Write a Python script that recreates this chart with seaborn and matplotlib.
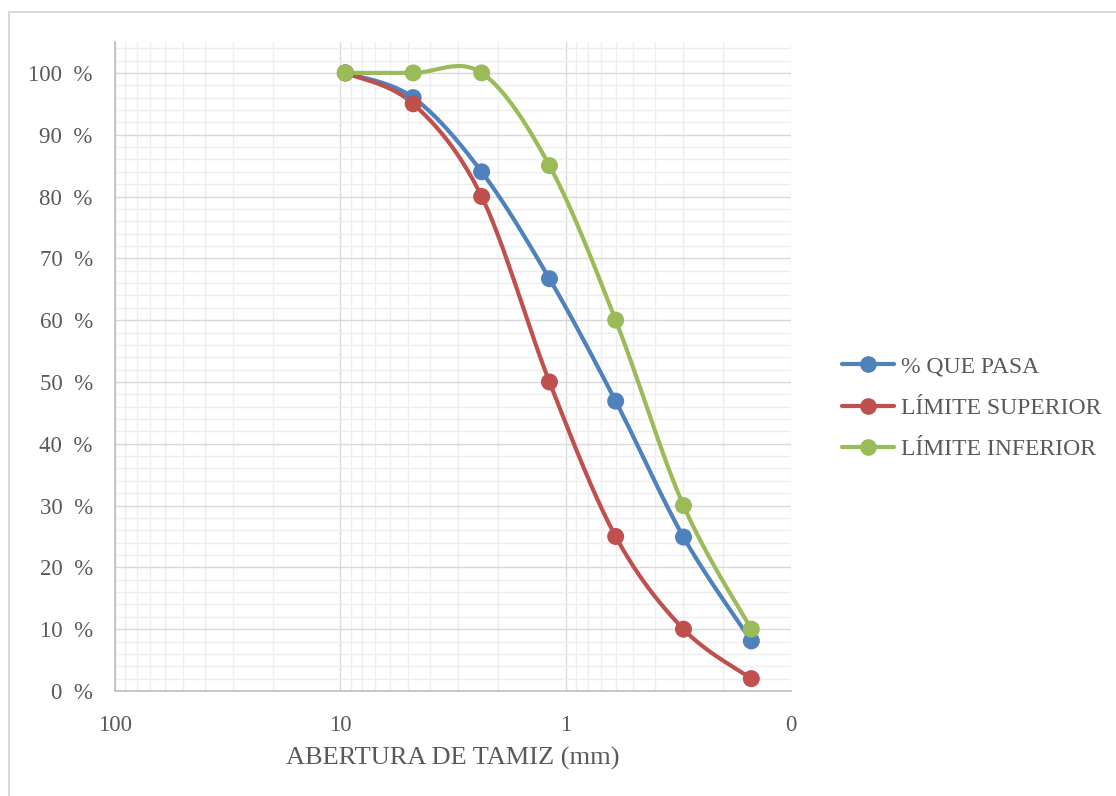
import numpy as np
import pandas as pd
import seaborn as sns
import matplotlib
matplotlib.use("Agg")
import matplotlib.pyplot as plt
from matplotlib.lines import Line2D
from matplotlib.patches import Rectangle
from matplotlib.ticker import FixedLocator, FixedFormatter, LogLocator, MultipleLocator, NullFormatter

# %%
abertura = [9.5, 4.75, 2.36, 1.18, 0.6, 0.3, 0.15]
que_pasa = [100, 96, 84, 66.7, 46.9, 24.9, 8.1]
lim_superior = [100, 95, 80, 50, 25, 10, 2]
lim_inferior = [100, 100, 100, 85, 60, 30, 10]

series = ["% QUE PASA", "LÍMITE SUPERIOR", "LÍMITE INFERIOR"]
colores = ["#4f81bd", "#c0504d", "#9bbb59"]
x_ticks = [100, 10, 1, 0.1]
x_labels = ["100", "10", "1", "0"]
y_ticks = list(range(0, 101, 10))
y_labels = [f"{v}  %" for v in y_ticks]

gris = "#595959"


def suavizar(xs, ys, n=40):
    # curva suavizada tipo Excel (bezier / catmull-rom) en espacio log-x
    p = np.column_stack([np.log10(xs), ys])
    out = []
    for i in range(len(p) - 1):
        p0 = p[i - 1] if i > 0 else p[i]
        p1, p2 = p[i], p[i + 1]
        p3 = p[i + 2] if i + 2 < len(p) else p[i + 1]
        c1 = p1 + (p2 - p0) / 6
        c2 = p2 - (p3 - p1) / 6
        t = np.linspace(0, 1, n)[:, None]
        b = (1 - t) ** 3 * p1 + 3 * (1 - t) ** 2 * t * c1 + 3 * (1 - t) * t ** 2 * c2 + t ** 3 * p2
        out.append(b if i == 0 else b[1:])
    out = np.vstack(out)
    return 10 ** out[:, 0], out[:, 1]


puntos = pd.concat([
    pd.DataFrame({"abertura": abertura, "pasa": vals, "serie": s})
    for s, vals in zip(series, [que_pasa, lim_superior, lim_inferior])
])
curvas = []
for s, vals in zip(series, [que_pasa, lim_superior, lim_inferior]):
    sx, sy = suavizar(abertura, vals)
    curvas.append(pd.DataFrame({"abertura": sx, "pasa": sy, "serie": s}))
curvas = pd.concat(curvas)

# %%
sns.set_style("white")
plt.rcParams["font.family"] = ["Liberation Serif", "DejaVu Serif"]

fig = plt.figure(figsize=(11.16, 7.96), dpi=100)
ax = fig.add_axes([115 / 1116, 105 / 796, 676 / 1116, 649 / 796])

fig.patches.append(Rectangle((9 / 1116, -0.05), 1.2, 1 - 12 / 796 + 0.05, transform=fig.transFigure,
                             fill=False, edgecolor="#d9d9d9", lw=1.5, zorder=0))

pal = dict(zip(series, colores))
sns.lineplot(data=curvas, x="abertura", y="pasa", hue="serie", palette=pal, sort=False,
             estimator=None, lw=3, legend=False, ax=ax, zorder=3)
sns.scatterplot(data=puntos, x="abertura", y="pasa", hue="serie", palette=pal, s=150,
                linewidth=0, legend=False, ax=ax, zorder=4)

ax.set_xscale("log")
ax.set_xlim(100, 0.1)
ax.set_ylim(0, 105)
ax.xaxis.set_major_locator(FixedLocator(x_ticks))
ax.xaxis.set_major_formatter(FixedFormatter(x_labels))
ax.xaxis.set_minor_locator(LogLocator(base=10, subs=np.arange(2, 10)))
ax.xaxis.set_minor_formatter(NullFormatter())
ax.yaxis.set_major_locator(FixedLocator(y_ticks))
ax.yaxis.set_major_formatter(FixedFormatter(y_labels))
ax.yaxis.set_minor_locator(MultipleLocator(2))

ax.grid(which="major", color="#d9d9d9", lw=1.0, zorder=0)
ax.grid(which="minor", color="#eeeeee", lw=1.0, zorder=0)
ax.set_axisbelow(True)

for sp in ["top", "right"]:
    ax.spines[sp].set_visible(False)
for sp in ["left", "bottom"]:
    ax.spines[sp].set_color("#bfbfbf")
    ax.spines[sp].set_linewidth(1.2)

ax.tick_params(axis="x", which="major", length=5, width=1, color="#bfbfbf", pad=12,
               labelsize=16.5, labelcolor=gris)
ax.tick_params(axis="x", which="minor", length=0)
ax.tick_params(axis="y", which="both", length=0, pad=16, labelsize=16.5, labelcolor=gris)

ax.set_xlabel("ABERTURA DE TAMIZ (mm)", fontsize=19, color=gris, labelpad=8)
ax.set_ylabel("")

handles = [Line2D([0], [0], color=c, lw=3, marker="o", markersize=12, markeredgewidth=0)
           for c in colores]
fig.legend(handles, series, loc="center left", bbox_to_anchor=(833 / 1116, 1 - 408 / 796),
           frameon=False, fontsize=17, handlelength=2.2, handletextpad=0.3,
           labelspacing=0.85, labelcolor=gris, borderaxespad=0)

fig.savefig("out.png", dpi=100)
